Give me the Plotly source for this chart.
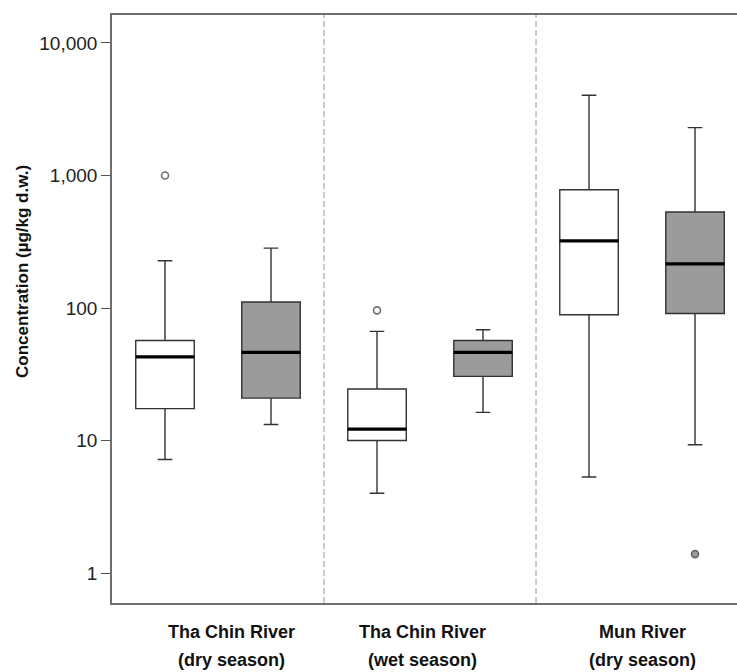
import plotly.graph_objects as go

# Sampling groups (river / season)
groups = ["Tha Chin River<br>(dry season)", "Tha Chin River<br>(wet season)", "Mun River<br>(dry season)"]
group_pos = [0.5, 1.5, 2.5]

# Box statistics (µg/kg d.w.) for the two sample types in each group
white_q1 = [17.4, 10.0, 89]
white_median = [42.8, 12.2, 321]
white_q3 = [56.9, 24.5, 780]
white_low = [7.2, 4.0, 5.3]
white_high = [227, 66.6, 4030]

gray_q1 = [20.9, 30.5, 91]
gray_median = [46.2, 46.2, 215]
gray_q3 = [111, 56.9, 530]
gray_low = [13.2, 16.3, 9.3]
gray_high = [283, 68.5, 2297]

# Outliers: (group index, value)
white_outliers = [(0, 1000), (1, 96)]
gray_outliers = [(2, 1.39)]

yticks = [1, 10, 100, 1000, 10000]
yticklabels = ["1", "10", "100", "1,000", "10,000"]

BOX_W = 0.276
OFFSET = 0.25
FONT = "Liberation Sans, Arial, sans-serif"

white_x = [p - OFFSET for p in group_pos]
gray_x = [p + OFFSET for p in group_pos]

fig = go.Figure()


def add_box(xs, q1, med, q3, lo, hi, fill):
    fig.add_trace(go.Box(
        x=xs, q1=q1, median=med, q3=q3, lowerfence=lo, upperfence=hi,
        width=BOX_W, whiskerwidth=0.25, fillcolor=fill,
        line=dict(color="#333333", width=1.4),
        boxpoints=False, showlegend=False, hoverinfo="skip",
    ))
    # heavier median bar drawn on top of each box
    mx, my = [], []
    for x, m in zip(xs, med):
        mx += [x - BOX_W / 2, x + BOX_W / 2, None]
        my += [m, m, None]
    fig.add_trace(go.Scatter(x=mx, y=my, mode="lines",
                             line=dict(color="#000000", width=3.2),
                             showlegend=False, hoverinfo="skip"))


add_box(white_x, white_q1, white_median, white_q3, white_low, white_high, "#ffffff")
add_box(gray_x, gray_q1, gray_median, gray_q3, gray_low, gray_high, "#9b9b9b")

fig.add_trace(go.Scatter(
    x=[white_x[g] for g, _ in white_outliers], y=[v for _, v in white_outliers],
    mode="markers", marker=dict(symbol="circle", size=7, color="#ffffff",
                                line=dict(color="#707070", width=1.6)),
    showlegend=False, hoverinfo="skip"))
fig.add_trace(go.Scatter(
    x=[gray_x[g] for g, _ in gray_outliers], y=[v for _, v in gray_outliers],
    mode="markers", marker=dict(symbol="circle", size=7, color="#9b9b9b",
                                line=dict(color="#666666", width=1.6)),
    showlegend=False, hoverinfo="skip"))

# dashed separators between groups
for sep in [1, 2]:
    fig.add_shape(type="line", xref="x", yref="paper", x0=sep, x1=sep, y0=0, y1=1,
                  line=dict(color="#a8a8a8", width=1.2, dash="6px,3px"), layer="below")

# group labels under the axis
shifts = [13, -8, 0]
for p, lab, sh in zip(group_pos, groups, shifts):
    top, bottom = lab.split("<br>")
    fig.add_annotation(x=p, y=0, xref="x", yref="paper", text=f"<b>{top}</b>",
                       showarrow=False, yanchor="middle", xshift=sh, yshift=-29,
                       font=dict(family=FONT, size=18, color="#111111"))
    fig.add_annotation(x=p, y=0, xref="x", yref="paper", text=f"<b>{bottom}</b>",
                       showarrow=False, yanchor="middle", xshift=sh, yshift=-57,
                       font=dict(family=FONT, size=18, color="#111111"))

fig.add_annotation(x=0, y=0.563, xref="paper", yref="paper",
                   text="<b>Concentration (µg/kg d.w.)</b>", textangle=-90,
                   showarrow=False, xanchor="center", yanchor="middle", xshift=-89,
                   font=dict(family=FONT, size=17, color="#111111"))

fig.update_layout(
    width=737, height=672,
    margin=dict(l=112, r=0, t=15, b=69),
    paper_bgcolor="white", plot_bgcolor="white",
    font=dict(family=FONT),
    xaxis=dict(range=[0, 2.948], showticklabels=False, ticks="", showgrid=False,
               zeroline=False, showline=True, mirror=True,
               linecolor="#6e6e6e", linewidth=1.6),
    yaxis=dict(type="log", range=[-0.226, 4.211], tickvals=yticks, ticktext=yticklabels,
               ticks="outside", ticklen=9, tickcolor="#555555", tickwidth=1.3,
               showgrid=False, zeroline=False, showline=True,
               linecolor="#6e6e6e", linewidth=1.6,
               tickfont=dict(family=FONT, size=19, color="#222222")),
)

fig.write_html("out.html")
